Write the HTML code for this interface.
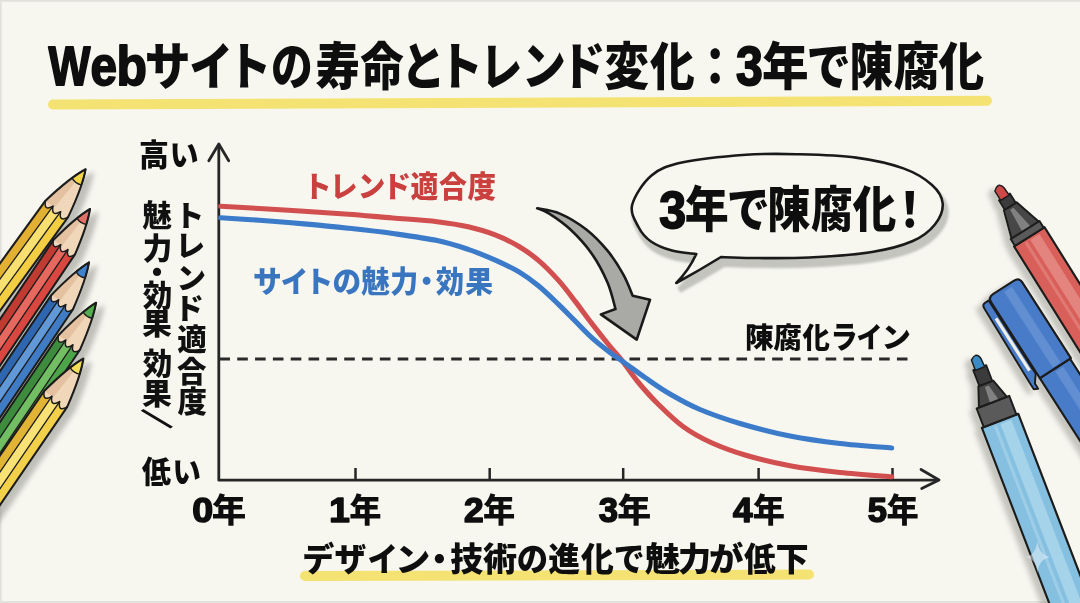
<!DOCTYPE html>
<html><head><meta charset="utf-8"><title>Webサイトの寿命とトレンド変化</title>
<style>
html,body{margin:0;padding:0;}
body{width:1080px;height:603px;overflow:hidden;background:#f7f7f0;}
svg{display:block;}
text{font-family:"Liberation Sans","Noto Sans CJK JP",sans-serif;}
</style></head>
<body>
<svg width="1080" height="603" viewBox="0 0 1080 603">
<defs>
<filter id="blur1" x="-10%" y="-10%" width="120%" height="120%"><feGaussianBlur stdDeviation="1.3"/></filter>
<filter id="blur2" x="-10%" y="-10%" width="120%" height="120%"><feGaussianBlur stdDeviation="2"/></filter>
<filter id="sh" x="-20%" y="-20%" width="140%" height="140%"><feGaussianBlur in="SourceAlpha" stdDeviation="2.5"/><feOffset dx="7" dy="4" result="b"/><feFlood flood-color="#8a8a84" flood-opacity="0.5"/><feComposite in2="b" operator="in"/><feMerge><feMergeNode/><feMergeNode in="SourceGraphic"/></feMerge></filter>
<filter id="shl" x="-20%" y="-20%" width="140%" height="140%"><feGaussianBlur in="SourceAlpha" stdDeviation="2.5"/><feOffset dx="-6" dy="4" result="b"/><feFlood flood-color="#8a8a84" flood-opacity="0.45"/><feComposite in2="b" operator="in"/><feMerge><feMergeNode/><feMergeNode in="SourceGraphic"/></feMerge></filter>
</defs>
<rect width="1080" height="603" fill="#f7f7f0"/>
<path d="M0 0.8 L1080 0.8 M0.8 0 L0.8 603 M0 602 L1080 602" stroke="#e2e2dc" stroke-width="1.8" fill="none"/>
<path d="M53 104.5 C250 103.8 600 103 987 100.8" stroke="#f4e272" stroke-width="10" fill="none" stroke-linecap="round"/>
<path d="M305 576 C450 576 650 575 809 574.5" stroke="#f4e272" stroke-width="10" fill="none" stroke-linecap="round"/>
<path d="M218.8 146 L218.8 480.2 L937 480.2" stroke="#262626" stroke-width="2.8" fill="none" stroke-linejoin="round"/>
<path d="M208.8 160.7 L218.8 144 L228.7 160.7" stroke="#262626" stroke-width="2.8" fill="none" stroke-linecap="round" stroke-linejoin="round"/>
<path d="M921 469.5 L939 480 L921.7 488.5" stroke="#262626" stroke-width="2.8" fill="none" stroke-linecap="round" stroke-linejoin="round"/>
<path d="M355.5 468 L355.5 480" stroke="#262626" stroke-width="2.5"/>
<path d="M489.7 468 L489.7 480" stroke="#262626" stroke-width="2.5"/>
<path d="M623.2 468 L623.2 480" stroke="#262626" stroke-width="2.5"/>
<path d="M758.6 468 L758.6 480" stroke="#262626" stroke-width="2.5"/>
<path d="M892.5 468 L892.5 480" stroke="#262626" stroke-width="2.5"/>
<path d="M219.4 359.1 L907.5 359.1" stroke="#2a2a2a" stroke-width="3" stroke-dasharray="10.6 7.23" fill="none"/>
<path d="M220.6 206.3 C227.1 206.7 245.5 207.7 259.4 208.5 C273.3 209.3 289.1 210.2 303.9 211.2 C318.7 212.1 333.5 213.1 348.3 214.2 C363.1 215.3 378.0 216.8 392.8 218.0 C407.6 219.2 424.6 220.2 437.2 221.7 C449.8 223.2 458.3 224.5 468.2 226.8 C478.1 229.1 487.9 232.0 496.4 235.3 C504.9 238.6 511.9 242.3 519.0 246.5 C526.0 250.7 532.1 255.0 538.7 260.6 C545.3 266.2 552.4 273.6 558.5 280.4 C564.6 287.2 569.8 294.3 575.4 301.6 C581.0 308.9 586.6 316.8 592.3 324.1 C597.9 331.4 604.3 339.4 609.3 345.5 C614.2 351.6 617.2 354.4 622.0 360.5 C626.8 366.6 632.0 374.8 638.0 382.0 C644.0 389.2 650.5 396.6 658.0 404.0 C665.5 411.4 674.2 420.1 683.0 426.5 C691.8 432.9 700.7 437.8 711.0 442.5 C721.3 447.2 731.8 451.1 745.0 455.0 C758.2 458.9 774.2 462.9 790.0 465.8 C805.8 468.7 823.0 470.7 840.0 472.5 C857.0 474.3 883.1 476.0 891.7 476.7" stroke="#d24f50" stroke-width="5.1" fill="none" stroke-linecap="round"/>
<path d="M220.6 217.8 C227.1 218.2 245.5 219.3 259.4 220.3 C273.3 221.3 289.1 222.6 303.9 223.9 C318.7 225.2 333.5 226.6 348.3 228.2 C363.1 229.8 378.0 231.4 392.8 233.5 C407.6 235.6 424.6 237.9 437.2 240.6 C449.8 243.2 458.3 246.1 468.2 249.4 C478.1 252.7 487.9 256.9 496.4 260.6 C504.9 264.4 511.9 267.7 519.0 271.9 C526.0 276.1 532.1 280.6 538.7 286.0 C545.3 291.4 552.4 298.5 558.5 304.4 C564.6 310.3 569.8 315.7 575.4 321.3 C581.0 326.9 586.6 333.1 592.3 338.2 C597.9 343.3 604.3 348.2 609.3 352.0 C614.2 355.8 616.0 356.8 622.0 361.0 C628.0 365.2 637.0 372.0 645.0 377.5 C653.0 383.0 660.8 388.7 670.0 394.0 C679.2 399.3 688.3 404.6 700.0 409.5 C711.7 414.4 725.0 419.1 740.0 423.5 C755.0 427.9 773.3 432.7 790.0 436.0 C806.7 439.3 823.0 441.5 840.0 443.5 C857.0 445.5 883.1 447.2 891.7 448.0" stroke="#3b7bc9" stroke-width="5.1" fill="none" stroke-linecap="round"/>
<path d="M537.2 208.3 C541.0 209.2 551.6 210.1 559.8 213.6 C568.0 217.1 578.3 223.3 586.3 229.5 C594.2 235.7 601.3 243.2 607.5 250.7 C613.7 258.2 619.2 267.1 623.4 274.6 C627.6 282.1 631.2 292.3 632.7 295.8 L650 299.8 L636.7 339.6 L600.9 314.4 L615.5 309.0 C614.2 304.6 611.5 291.8 607.5 282.5 C603.5 273.2 597.8 262.2 591.6 253.4 C585.4 244.6 577.5 236.1 570.4 229.5 C563.3 222.9 554.7 217.1 549.2 213.6 C543.7 210.1 539.2 209.2 537.2 208.3Z" fill="#a9a9a6" stroke="#1a1a1a" stroke-width="2.6" stroke-linejoin="round"/>
<path d="M724.0 264.0 C729.2 264.2 740.5 264.9 755.2 265.0 C769.9 265.1 792.0 265.5 812.0 264.5 C832.0 263.5 857.6 261.8 874.9 259.0 C892.2 256.2 905.3 252.6 915.8 248.0 C926.3 243.4 932.9 237.8 937.9 231.5 C942.9 225.2 946.2 217.1 945.7 210.5 C945.2 203.9 941.5 197.8 935.0 192.0 C928.5 186.2 919.1 180.0 906.4 175.4 C893.7 170.8 876.9 167.0 859.0 164.6 C841.1 162.2 817.6 161.7 799.3 161.2 C781.0 160.7 767.9 160.5 749.0 161.8 C730.1 163.2 701.8 165.9 686.0 169.3 C670.2 172.8 663.0 175.4 654.5 182.5 C646.0 189.6 637.4 203.2 635.2 211.8 C633.0 220.4 638.4 227.9 641.5 234.0 C644.6 240.1 648.4 244.6 654.0 248.5 C659.6 252.4 667.5 255.5 675.0 257.6 C682.5 259.7 695.2 260.4 699.3 261.0 Q692 277 679.3 290 Q703 277 724 264 Z" fill="#c2c2bc" stroke="#c2c2bc" stroke-width="6" opacity="0.95" filter="url(#blur1)"/>
<path d="M721.0 257.0 C726.2 257.2 737.5 257.9 752.2 258.0 C766.9 258.1 789.0 258.5 809.0 257.5 C829.0 256.5 854.6 254.8 871.9 252.0 C889.2 249.2 902.3 245.6 912.8 241.0 C923.3 236.4 929.9 230.8 934.9 224.5 C939.9 218.2 943.2 210.1 942.7 203.5 C942.2 196.9 938.5 190.8 932.0 185.0 C925.5 179.2 916.1 173.0 903.4 168.4 C890.7 163.8 873.9 160.0 856.0 157.6 C838.1 155.2 814.6 154.7 796.3 154.2 C778.0 153.7 764.9 153.5 746.0 154.8 C727.1 156.2 698.8 158.9 683.0 162.3 C667.2 165.8 660.0 168.4 651.5 175.5 C643.0 182.6 634.4 196.2 632.2 204.8 C630.0 213.4 635.4 220.9 638.5 227.0 C641.6 233.1 645.4 237.6 651.0 241.5 C656.6 245.4 664.5 248.5 672.0 250.6 C679.5 252.7 692.2 253.4 696.3 254.0 Q689 270 676.3 283 Q700 270 721 257 Z" fill="#f7f7f0" stroke="#1a1a1a" stroke-width="2.6" stroke-linejoin="round"/>
<g filter="url(#sh)"><g transform="translate(85.6 169.3) rotate(126.0)">
<path d="M49 -14.0 Q59 -9.3 49 -4.7 L371 -4.7 L371 -14.0 Z" fill="#f3ce42"/>
<path d="M49 -4.7 Q59 0.0 49 4.7 L371 4.7 L371 -4.7 Z" fill="#f8e070"/>
<path d="M49 4.7 Q59 9.3 49 14.0 L371 14.0 L371 4.7 Z" fill="#e2b032"/>
<path d="M0 0 Q15.3 -7.6 49.0 -14.0 Q59 -9.3 49 -4.7 Q59 0.0 49 4.7 Q59 9.3 49 14.0 Q15.3 7.6 0 0 Z" fill="#f1d7ba"/>
<path d="M15 0.6 L49 2.8 L49 14.0 Q15.3 7.6 15 5.8 Z" fill="#d8ae88" opacity="0.5"/>
<path d="M0 0 Q6.1 -3.0 15.0 -5.8 Q17.5 0 15.0 5.8 Q6.1 3.0 0 0 Z" fill="#f2d548" stroke="#1c1c1c" stroke-width="1.4" stroke-linejoin="round"/>
<path d="M371 -14.0 L49 -14.0 Q15.3 -7.6 0 0 Q15.3 7.6 49 14.0 L371 14.0" stroke="#1c1c1c" fill="none" stroke-linejoin="round" stroke-linecap="round" stroke-width="2.1"/>
<path d="M49 -14.0 Q59 -9.3 49 -4.7 Q59 0.0 49 4.7 Q59 9.3 49 14.0" stroke="#1c1c1c" fill="none" stroke-linejoin="round" stroke-linecap="round" stroke-width="1.5"/>
<path d="M49 -4.7 L371 -4.7 M49 4.7 L371 4.7" stroke="#1c1c1c" fill="none" stroke-linejoin="round" stroke-linecap="round" stroke-width="1.3"/>
</g>
<g transform="translate(90.0 209.0) rotate(124.0)">
<path d="M46 -13.0 Q56 -8.7 46 -4.3 L368 -4.3 L368 -13.0 Z" fill="#d9473f"/>
<path d="M46 -4.3 Q56 -0.0 46 4.3 L368 4.3 L368 -4.3 Z" fill="#e6675e"/>
<path d="M46 4.3 Q56 8.7 46 13.0 L368 13.0 L368 4.3 Z" fill="#c03a32"/>
<path d="M0 0 Q14.4 -7.0 46.0 -13.0 Q56 -8.7 46 -4.3 Q56 -0.0 46 4.3 Q56 8.7 46 13.0 Q14.4 7.0 0 0 Z" fill="#f1d7ba"/>
<path d="M15 0.6 L46 2.6 L46 13.0 Q14.4 7.0 15 5.7 Z" fill="#d8ae88" opacity="0.5"/>
<path d="M0 0 Q6.0 -2.9 15.0 -5.7 Q17.5 0 15.0 5.7 Q6.0 2.9 0 0 Z" fill="#e07068" stroke="#1c1c1c" stroke-width="1.4" stroke-linejoin="round"/>
<path d="M368 -13.0 L46 -13.0 Q14.4 -7.0 0 0 Q14.4 7.0 46 13.0 L368 13.0" stroke="#1c1c1c" fill="none" stroke-linejoin="round" stroke-linecap="round" stroke-width="2.1"/>
<path d="M46 -13.0 Q56 -8.7 46 -4.3 Q56 -0.0 46 4.3 Q56 8.7 46 13.0" stroke="#1c1c1c" fill="none" stroke-linejoin="round" stroke-linecap="round" stroke-width="1.5"/>
<path d="M46 -4.3 L368 -4.3 M46 4.3 L368 4.3" stroke="#1c1c1c" fill="none" stroke-linejoin="round" stroke-linecap="round" stroke-width="1.3"/>
</g>
<g transform="translate(89.0 262.4) rotate(124.0)">
<path d="M48 -13.0 Q58 -8.7 48 -4.3 L370 -4.3 L370 -13.0 Z" fill="#3f7cc6"/>
<path d="M48 -4.3 Q58 -0.0 48 4.3 L370 4.3 L370 -4.3 Z" fill="#6098d8"/>
<path d="M48 4.3 Q58 8.7 48 13.0 L370 13.0 L370 4.3 Z" fill="#2f66b0"/>
<path d="M0 0 Q15.0 -7.0 48.0 -13.0 Q58 -8.7 48 -4.3 Q58 -0.0 48 4.3 Q58 8.7 48 13.0 Q15.0 7.0 0 0 Z" fill="#f1d7ba"/>
<path d="M15 0.5 L48 2.6 L48 13.0 Q15.0 7.0 15 5.5 Z" fill="#d8ae88" opacity="0.5"/>
<path d="M0 0 Q6.0 -2.8 15.0 -5.5 Q17.5 0 15.0 5.5 Q6.0 2.8 0 0 Z" fill="#3f80d0" stroke="#1c1c1c" stroke-width="1.4" stroke-linejoin="round"/>
<path d="M370 -13.0 L48 -13.0 Q15.0 -7.0 0 0 Q15.0 7.0 48 13.0 L370 13.0" stroke="#1c1c1c" fill="none" stroke-linejoin="round" stroke-linecap="round" stroke-width="2.1"/>
<path d="M48 -13.0 Q58 -8.7 48 -4.3 Q58 -0.0 48 4.3 Q58 8.7 48 13.0" stroke="#1c1c1c" fill="none" stroke-linejoin="round" stroke-linecap="round" stroke-width="1.5"/>
<path d="M48 -4.3 L370 -4.3 M48 4.3 L370 4.3" stroke="#1c1c1c" fill="none" stroke-linejoin="round" stroke-linecap="round" stroke-width="1.3"/>
</g>
<g transform="translate(96.1 302.7) rotate(124.0)">
<path d="M48 -13.0 Q58 -8.7 48 -4.3 L370 -4.3 L370 -13.0 Z" fill="#4ea54a"/>
<path d="M48 -4.3 Q58 -0.0 48 4.3 L370 4.3 L370 -4.3 Z" fill="#72be62"/>
<path d="M48 4.3 Q58 8.7 48 13.0 L370 13.0 L370 4.3 Z" fill="#3c8c3e"/>
<path d="M0 0 Q15.0 -7.0 48.0 -13.0 Q58 -8.7 48 -4.3 Q58 -0.0 48 4.3 Q58 8.7 48 13.0 Q15.0 7.0 0 0 Z" fill="#f1d7ba"/>
<path d="M15 0.5 L48 2.6 L48 13.0 Q15.0 7.0 15 5.5 Z" fill="#d8ae88" opacity="0.5"/>
<path d="M0 0 Q6.0 -2.8 15.0 -5.5 Q17.5 0 15.0 5.5 Q6.0 2.8 0 0 Z" fill="#52ad50" stroke="#1c1c1c" stroke-width="1.4" stroke-linejoin="round"/>
<path d="M370 -13.0 L48 -13.0 Q15.0 -7.0 0 0 Q15.0 7.0 48 13.0 L370 13.0" stroke="#1c1c1c" fill="none" stroke-linejoin="round" stroke-linecap="round" stroke-width="2.1"/>
<path d="M48 -13.0 Q58 -8.7 48 -4.3 Q58 -0.0 48 4.3 Q58 8.7 48 13.0" stroke="#1c1c1c" fill="none" stroke-linejoin="round" stroke-linecap="round" stroke-width="1.5"/>
<path d="M48 -4.3 L370 -4.3 M48 4.3 L370 4.3" stroke="#1c1c1c" fill="none" stroke-linejoin="round" stroke-linecap="round" stroke-width="1.3"/>
</g>
<g transform="translate(83.4 358.5) rotate(124.4)">
<path d="M49 -14.0 Q59 -9.3 49 -4.7 L371 -4.7 L371 -14.0 Z" fill="#f3d048"/>
<path d="M49 -4.7 Q59 0.0 49 4.7 L371 4.7 L371 -4.7 Z" fill="#f8e274"/>
<path d="M49 4.7 Q59 9.3 49 14.0 L371 14.0 L371 4.7 Z" fill="#e2b436"/>
<path d="M0 0 Q15.3 -7.6 49.0 -14.0 Q59 -9.3 49 -4.7 Q59 0.0 49 4.7 Q59 9.3 49 14.0 Q15.3 7.6 0 0 Z" fill="#f1d7ba"/>
<path d="M15 0.6 L49 2.8 L49 14.0 Q15.3 7.6 15 5.8 Z" fill="#d8ae88" opacity="0.5"/>
<path d="M0 0 Q6.1 -3.0 15.0 -5.8 Q17.5 0 15.0 5.8 Q6.1 3.0 0 0 Z" fill="#f4de58" stroke="#1c1c1c" stroke-width="1.4" stroke-linejoin="round"/>
<path d="M371 -14.0 L49 -14.0 Q15.3 -7.6 0 0 Q15.3 7.6 49 14.0 L371 14.0" stroke="#1c1c1c" fill="none" stroke-linejoin="round" stroke-linecap="round" stroke-width="2.1"/>
<path d="M49 -14.0 Q59 -9.3 49 -4.7 Q59 0.0 49 4.7 Q59 9.3 49 14.0" stroke="#1c1c1c" fill="none" stroke-linejoin="round" stroke-linecap="round" stroke-width="1.5"/>
<path d="M49 -4.7 L371 -4.7 M49 4.7 L371 4.7" stroke="#1c1c1c" fill="none" stroke-linejoin="round" stroke-linecap="round" stroke-width="1.3"/>
</g></g>
<g filter="url(#shl)"><g transform="translate(997.5 185.9) rotate(58.0)">
<rect x="60" y="-18.0" width="420" height="36" fill="#d9605a" stroke="#1c1c1c" stroke-linejoin="round" stroke-width="2.2"/>
<rect x="63" y="-10.1" width="420" height="10.8" fill="#eba29c" opacity="0.55"/>
<rect x="63" y="4.3" width="420" height="2.9" fill="#eba29c" opacity="0.4"/>
<rect x="52" y="-17.0" width="8" height="34" fill="#5a5a5a" stroke="#1c1c1c" stroke-linejoin="round" stroke-width="2"/>
<path d="M24 -7.5 L52 -16.0 L52 16.0 L24 7.5 Z" fill="#474747" stroke="#1c1c1c" stroke-linejoin="round" stroke-width="2"/>
<path d="M27 -2 L51 -6.4 L51 3.2 L27 2 Z" fill="#a8a8a8" opacity="0.6"/>
<path d="M13 -6.5 L24 -6.5 L24 6.5 L13 6.5 Z" fill="#3a3a3a" stroke="#1c1c1c" stroke-linejoin="round" stroke-width="1.8"/>
<path d="M0 -1 Q0 2 3 5.0 L14 5.0 L14 -5.0 L5 -4.5 Q1 -4 0 -1 Z" fill="#d04848" stroke="#1c1c1c" stroke-linejoin="round" stroke-width="1.5"/>
</g>
<g transform="translate(1003.5 287.4) rotate(57.3)">
<rect x="96" y="-17.5" width="300" height="36" fill="#4a7cc8" stroke="#1c1c1c" stroke-linejoin="round" stroke-width="2.2"/>
<rect x="99" y="-7.4" width="300" height="9.2" fill="#7aa0dc" opacity="0.5"/>
<path d="M96 -18.5 L6 -18.5 Q0 -18.5 0 -12.5 L0 12.5 Q0 18.5 6 18.5 L96 18.5 Z" fill="#4a7cc8" stroke="#1c1c1c" stroke-linejoin="round" stroke-width="2.2"/>
<rect x="4" y="-7.4" width="90" height="9.2" fill="#7aa0dc" opacity="0.5"/>
<path d="M3 19.5 L90 19.5 L98 25.5 L104 25.5 L102 29.5 L94 29.5 L7 27.5 Q3 27.5 3 23.5 Z" fill="#4a7cc8" stroke="#1c1c1c" stroke-linejoin="round" stroke-width="2"/>
<path d="M22 23.0 L84 23.0" stroke="#eeeee6" stroke-width="3.2"/>
</g>
<g transform="translate(975.0 355.5) rotate(69.0)">
<rect x="70" y="-19.5" width="420" height="39" fill="#86c0e0" stroke="#1c1c1c" stroke-linejoin="round" stroke-width="2.2"/>
<rect x="73" y="-10.9" width="420" height="11.7" fill="#c0e2f2" opacity="0.55"/>
<rect x="73" y="4.7" width="420" height="3.1" fill="#c0e2f2" opacity="0.4"/>
<rect x="50" y="-17.5" width="20" height="35" fill="#5a5a5a" stroke="#1c1c1c" stroke-linejoin="round" stroke-width="2"/>
<path d="M30 -8.0 L50 -15.0 L50 15.0 L30 8.0 Z" fill="#474747" stroke="#1c1c1c" stroke-linejoin="round" stroke-width="2"/>
<path d="M33 -2 L49 -6.0 L49 3.0 L33 2 Z" fill="#a8a8a8" opacity="0.6"/>
<path d="M13 -7.0 L30 -7.0 L30 7.0 L13 7.0 Z" fill="#3a3a3a" stroke="#1c1c1c" stroke-linejoin="round" stroke-width="1.8"/>
<path d="M0 -1 Q0 2 3 5.0 L14 5.0 L14 -5.0 L5 -4.5 Q1 -4 0 -1 Z" fill="#3a8cc4" stroke="#1c1c1c" stroke-linejoin="round" stroke-width="1.5"/>
</g></g>
<path d="M1037.4 541 Q1039 555 1050 557 Q1039 559 1037.4 573 Q1035.8 559 1026 557 Q1035.8 555 1037.4 541 Z" fill="#eef6fa" opacity="0.5"/>
<text transform="translate(0 84.5) scale(1 1.151)" font-size="44.4" font-weight="900" fill="#0e0e0e" ><tspan x="48.6" y="0.36" font-size="47.6" font-weight="700" stroke="#0e0e0e" stroke-width="1.6" stroke-linejoin="round" textLength="41.9" lengthAdjust="spacingAndGlyphs">W</tspan><tspan x="90.5" y="0.36" font-size="47.6" font-weight="700" stroke="#0e0e0e" stroke-width="1.6" stroke-linejoin="round" textLength="26.5" lengthAdjust="spacingAndGlyphs">e</tspan><tspan x="116.4" y="0.36" font-size="47.6" font-weight="700" stroke="#0e0e0e" stroke-width="1.6" stroke-linejoin="round" textLength="30.4" lengthAdjust="spacingAndGlyphs">b</tspan><tspan x="144.8" y="0" textLength="45.8" lengthAdjust="spacingAndGlyphs">サ</tspan><tspan x="189.2" y="0" textLength="43.8" lengthAdjust="spacingAndGlyphs">イ</tspan><tspan x="227.3" y="0" textLength="44.1" lengthAdjust="spacingAndGlyphs">ト</tspan><tspan x="271.1" y="0" textLength="41.8" lengthAdjust="spacingAndGlyphs">の</tspan><tspan x="315.4" y="0" textLength="44.4" lengthAdjust="spacingAndGlyphs">寿</tspan><tspan x="360.3" y="0" textLength="43.5" lengthAdjust="spacingAndGlyphs">命</tspan><tspan x="401.0" y="0" textLength="44.4" lengthAdjust="spacingAndGlyphs">と</tspan><tspan x="437.9" y="0" textLength="44.9" lengthAdjust="spacingAndGlyphs">ト</tspan><tspan x="480.2" y="0" textLength="42.0" lengthAdjust="spacingAndGlyphs">レ</tspan><tspan x="521.9" y="0" textLength="43.9" lengthAdjust="spacingAndGlyphs">ン</tspan><tspan x="561.1" y="0" textLength="44.5" lengthAdjust="spacingAndGlyphs">ド</tspan><tspan x="604.5" y="0" textLength="44.5" lengthAdjust="spacingAndGlyphs">変</tspan><tspan x="650.1" y="0" textLength="44.7" lengthAdjust="spacingAndGlyphs">化</tspan><tspan x="693.0" y="0">：</tspan><tspan x="736.0" y="0.36" font-size="47.6" font-weight="700" stroke="#0e0e0e" stroke-width="1.6" stroke-linejoin="round" textLength="26.8" lengthAdjust="spacingAndGlyphs">3</tspan><tspan x="762.1" y="0" textLength="46.6" lengthAdjust="spacingAndGlyphs">年</tspan><tspan x="806.5" y="0" textLength="44.4" lengthAdjust="spacingAndGlyphs">で</tspan><tspan x="849.4" y="0" textLength="43.5" lengthAdjust="spacingAndGlyphs">陳</tspan><tspan x="893.8" y="0" textLength="45.6" lengthAdjust="spacingAndGlyphs">腐</tspan><tspan x="938.5" y="0" textLength="45.7" lengthAdjust="spacingAndGlyphs">化</tspan></text>
<text transform="translate(0 227.2) scale(1 1.132)" font-size="43.1" font-weight="900" fill="#0e0e0e" ><tspan x="659.2" y="0.33" font-size="45.6" font-weight="700" stroke="#0e0e0e" stroke-width="1.6" stroke-linejoin="round" textLength="26.8" lengthAdjust="spacingAndGlyphs">3</tspan><tspan x="684.8" y="0" textLength="44.0" lengthAdjust="spacingAndGlyphs">年</tspan><tspan x="726.8" y="0" textLength="43.1" lengthAdjust="spacingAndGlyphs">で</tspan><tspan x="767.2" y="0" textLength="43.1" lengthAdjust="spacingAndGlyphs">陳</tspan><tspan x="810.9" y="0" textLength="41.7" lengthAdjust="spacingAndGlyphs">腐</tspan><tspan x="852.7" y="0" textLength="43.6" lengthAdjust="spacingAndGlyphs">化</tspan><tspan x="888.3" y="0">！</tspan></text>
<text transform="translate(0 196.8) scale(1 1.063)" font-size="27.9" font-weight="900" fill="#c9403f" ><tspan x="303.5" y="0" textLength="28.1" lengthAdjust="spacingAndGlyphs">ト</tspan><tspan x="330.1" y="0" textLength="27.4" lengthAdjust="spacingAndGlyphs">レ</tspan><tspan x="357.7" y="0" textLength="27.5" lengthAdjust="spacingAndGlyphs">ン</tspan><tspan x="382.6" y="0" textLength="28.6" lengthAdjust="spacingAndGlyphs">ド</tspan><tspan x="410.5" y="0" textLength="27.8" lengthAdjust="spacingAndGlyphs">適</tspan><tspan x="439.0" y="0" textLength="27.9" lengthAdjust="spacingAndGlyphs">合</tspan><tspan x="467.5" y="0" textLength="28.5" lengthAdjust="spacingAndGlyphs">度</tspan></text>
<text transform="translate(0 292.0) scale(1 1.049)" font-size="28.3" font-weight="900" fill="#3a76c0" ><tspan x="253.0" y="0" textLength="28.8" lengthAdjust="spacingAndGlyphs">サ</tspan><tspan x="280.8" y="0" textLength="27.5" lengthAdjust="spacingAndGlyphs">イ</tspan><tspan x="305.1" y="0" textLength="28.3" lengthAdjust="spacingAndGlyphs">ト</tspan><tspan x="332.5" y="0" textLength="28.7" lengthAdjust="spacingAndGlyphs">の</tspan><tspan x="361.2" y="0" textLength="28.8" lengthAdjust="spacingAndGlyphs">魅</tspan><tspan x="390.2" y="0" textLength="28.0" lengthAdjust="spacingAndGlyphs">力</tspan><tspan x="412.4" y="0">・</tspan><tspan x="435.7" y="0" textLength="28.3" lengthAdjust="spacingAndGlyphs">効</tspan><tspan x="465.2" y="0" textLength="27.7" lengthAdjust="spacingAndGlyphs">果</tspan></text>
<text transform="translate(0 348.0) scale(1 1.012)" font-size="28.3" font-weight="900" fill="#0e0e0e" ><tspan x="745.1" y="0" textLength="28.8" lengthAdjust="spacingAndGlyphs">陳</tspan><tspan x="773.6" y="0" textLength="28.3" lengthAdjust="spacingAndGlyphs">腐</tspan><tspan x="802.5" y="0" textLength="27.4" lengthAdjust="spacingAndGlyphs">化</tspan><tspan x="830.6" y="0" font-size="30.3" textLength="27.1" lengthAdjust="spacingAndGlyphs">ラ</tspan><tspan x="856.5" y="0" textLength="26.1" lengthAdjust="spacingAndGlyphs">イ</tspan><tspan x="881.5" y="0" textLength="29.4" lengthAdjust="spacingAndGlyphs">ン</tspan></text>
<text transform="translate(0 571.3) scale(1 1.010)" font-size="32.8" font-weight="900" fill="#0e0e0e" ><tspan x="302.2" y="0" textLength="32.0" lengthAdjust="spacingAndGlyphs">デ</tspan><tspan x="334.5" y="0" textLength="31.8" lengthAdjust="spacingAndGlyphs">ザ</tspan><tspan x="367.4" y="0" textLength="30.5" lengthAdjust="spacingAndGlyphs">イ</tspan><tspan x="395.2" y="0" textLength="35.1" lengthAdjust="spacingAndGlyphs">ン</tspan><tspan x="422.9" y="0">・</tspan><tspan x="450.2" y="0" textLength="32.8" lengthAdjust="spacingAndGlyphs">技</tspan><tspan x="483.0" y="0" textLength="34.1" lengthAdjust="spacingAndGlyphs">術</tspan><tspan x="516.7" y="0" textLength="31.3" lengthAdjust="spacingAndGlyphs">の</tspan><tspan x="548.3" y="0" textLength="31.8" lengthAdjust="spacingAndGlyphs">進</tspan><tspan x="581.0" y="0" textLength="32.8" lengthAdjust="spacingAndGlyphs">化</tspan><tspan x="613.8" y="0" textLength="30.9" lengthAdjust="spacingAndGlyphs">で</tspan><tspan x="645.1" y="0" textLength="35.4" lengthAdjust="spacingAndGlyphs">魅</tspan><tspan x="677.9" y="0" textLength="33.1" lengthAdjust="spacingAndGlyphs">力</tspan><tspan x="709.0" y="0" textLength="34.4" lengthAdjust="spacingAndGlyphs">が</tspan><tspan x="744.1" y="0" textLength="31.6" lengthAdjust="spacingAndGlyphs">低</tspan><tspan x="775.4" y="0" textLength="33.2" lengthAdjust="spacingAndGlyphs">下</tspan></text>
<text transform="translate(0 166.4) scale(1 1.018)" font-size="29.9" font-weight="900" fill="#0e0e0e" ><tspan x="139.1" y="0" textLength="29.9" lengthAdjust="spacingAndGlyphs">高</tspan><tspan x="169.8" y="0" textLength="28.8" lengthAdjust="spacingAndGlyphs">い</tspan></text>
<text transform="translate(0 483.0) scale(1 1.035)" font-size="29.2" font-weight="900" fill="#0e0e0e" ><tspan x="141.7" y="0" textLength="29.2" lengthAdjust="spacingAndGlyphs">低</tspan><tspan x="172.4" y="0" textLength="28.4" lengthAdjust="spacingAndGlyphs">い</tspan></text>
<text transform="translate(0 522.0) scale(1 0.951)" font-size="34.5" font-weight="900" fill="#0e0e0e" ><tspan x="192.3" y="0.00" font-size="36.8" font-weight="700" stroke="#0e0e0e" stroke-width="1.6" stroke-linejoin="round" textLength="20.9" lengthAdjust="spacingAndGlyphs">0</tspan><tspan x="211.7" y="0" textLength="34.5" lengthAdjust="spacingAndGlyphs">年</tspan></text>
<text transform="translate(0 522.0) scale(1 1.021)" font-size="32.2" font-weight="900" fill="#0e0e0e" ><tspan x="329.2" y="0.00" font-size="34.3" font-weight="700" stroke="#0e0e0e" stroke-width="1.6" stroke-linejoin="round" textLength="20.5" lengthAdjust="spacingAndGlyphs">1</tspan><tspan x="349.3" y="0" textLength="32.2" lengthAdjust="spacingAndGlyphs">年</tspan></text>
<text transform="translate(0 522.0) scale(1 1.021)" font-size="32.2" font-weight="900" fill="#0e0e0e" ><tspan x="464.1" y="0.00" font-size="34.3" font-weight="700" stroke="#0e0e0e" stroke-width="1.6" stroke-linejoin="round" textLength="19.6" lengthAdjust="spacingAndGlyphs">2</tspan><tspan x="483.1" y="0" textLength="32.2" lengthAdjust="spacingAndGlyphs">年</tspan></text>
<text transform="translate(0 522.0) scale(1 0.969)" font-size="33.9" font-weight="900" fill="#0e0e0e" ><tspan x="598.7" y="0.00" font-size="36.1" font-weight="700" stroke="#0e0e0e" stroke-width="1.6" stroke-linejoin="round" textLength="19.3" lengthAdjust="spacingAndGlyphs">3</tspan><tspan x="617.3" y="0" textLength="33.9" lengthAdjust="spacingAndGlyphs">年</tspan></text>
<text transform="translate(0 522.0) scale(1 1.021)" font-size="32.2" font-weight="900" fill="#0e0e0e" ><tspan x="732.9" y="0.00" font-size="34.3" font-weight="700" stroke="#0e0e0e" stroke-width="1.6" stroke-linejoin="round" textLength="19.5" lengthAdjust="spacingAndGlyphs">4</tspan><tspan x="752.7" y="0" textLength="32.2" lengthAdjust="spacingAndGlyphs">年</tspan></text>
<text transform="translate(0 522.0) scale(1 1.017)" font-size="32.3" font-weight="900" fill="#0e0e0e" ><tspan x="867.7" y="0.00" font-size="34.4" font-weight="700" stroke="#0e0e0e" stroke-width="1.6" stroke-linejoin="round" textLength="19.2" lengthAdjust="spacingAndGlyphs">5</tspan><tspan x="886.5" y="0" textLength="32.3" lengthAdjust="spacingAndGlyphs">年</tspan></text>
<text font-size="29.5" font-weight="900" fill="#111"><tspan x="174.7" y="225.5">ト</tspan><tspan x="175.5" y="255.5">レ</tspan><tspan x="176.5" y="289.3">ン</tspan><tspan x="174.6" y="318.9">ド</tspan><tspan x="177.2" y="350.4">適</tspan><tspan x="177.1" y="382.4">合</tspan><tspan x="177.4" y="412.4">度</tspan></text>
<text font-size="29.5" font-weight="900" fill="#111"><tspan x="142.4" y="225.7">魅</tspan><tspan x="142.8" y="258.9">力</tspan><tspan x="142.2" y="283.3">・</tspan><tspan x="142.8" y="306.1">効</tspan><tspan x="142.2" y="333.9">果</tspan> <tspan x="142.8" y="373.6">効</tspan><tspan x="142.2" y="403.5">果</tspan></text><text transform="matrix(0.992 0 0 -0.594 141.5 412.1)" font-size="31" font-weight="900" fill="#111" stroke="#111" stroke-width="2.2">／</text>
</svg>
</body></html>
